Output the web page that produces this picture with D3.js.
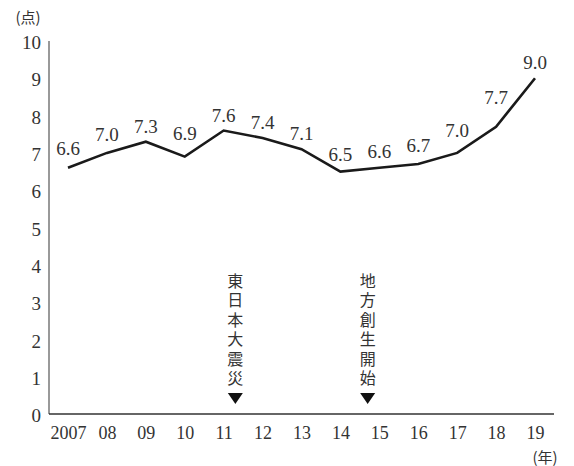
<!DOCTYPE html>
<html>
<head>
<meta charset="utf-8">
<script src="https://cdn.jsdelivr.net/npm/d3@7"></script>
<style>
  body { margin: 0; background: #fff; }
  svg text { fill: #333; }
  .serif { font-family: "Liberation Serif", "Times New Roman", Times, "DejaVu Serif", serif; }
  .jp { font-family: "Noto Sans CJK JP", "Noto Sans CJK SC", sans-serif; }
  .vert { writing-mode: vertical-rl; text-orientation: upright; }
</style>
</head>
<body>
<svg class="chart" width="574" height="466"></svg>
<script>
const years = [2007, 2008, 2009, 2010, 2011, 2012, 2013, 2014, 2015, 2016, 2017, 2018, 2019];
const yearLabels = ["2007", "08", "09", "10", "11", "12", "13", "14", "15", "16", "17", "18", "19"];
const scores = [6.6, 7.0, 7.3, 6.9, 7.6, 7.4, 7.1, 6.5, 6.6, 6.7, 7.0, 7.7, 9.0];
const yTicks = [0, 1, 2, 3, 4, 5, 6, 7, 8, 9, 10];
const events = ["東日本大震災", "地方創生開始"];
const eventYears = [2011.3, 2014.7];

(function lineIIFE() {
    const svg = d3.select("svg.chart");
    const left = 49, right = 554, top = 41, bottom = 414;

    const x = d3.scaleLinear().domain([2007, 2019]).range([68, 535]);
    const y = d3.scaleLinear().domain([0, 10]).range([bottom, top]);

    // y axis
    const yAxis = svg.append("g")
        .attr("transform", "translate(" + left + ",0)")
        .call(d3.axisLeft(y).tickValues(yTicks).tickSize(0).tickPadding(8).tickFormat(d3.format("d")));
    yAxis.attr("font-family", null).attr("font-size", null);
    yAxis.select(".domain").remove();
    yAxis.selectAll("text").attr("class", "serif").style("font-size", "19px").attr("dy", "0.4em");
    svg.append("line")
        .attr("x1", left).attr("x2", left)
        .attr("y1", top).attr("y2", bottom)
        .attr("stroke", "#777").attr("stroke-width", 1.5);

    // x axis
    const xAxis = svg.append("g")
        .attr("transform", "translate(0," + bottom + ")")
        .call(d3.axisBottom(x).tickValues(years).tickSize(0).tickPadding(12)
            .tickFormat(function(d, i) { return yearLabels[i]; }));
    xAxis.attr("font-family", null).attr("font-size", null);
    xAxis.select(".domain").remove();
    xAxis.selectAll("text").attr("class", "serif").style("font-size", "18px");
    svg.append("line")
        .attr("x1", left).attr("x2", right)
        .attr("y1", bottom).attr("y2", bottom)
        .attr("stroke", "#333").attr("stroke-width", 1.6);

    // unit labels
    svg.append("text").attr("class", "jp").attr("x", 28).attr("y", 23)
        .attr("text-anchor", "middle").style("font-size", "15px").text("(点)");
    svg.append("text").attr("class", "jp").attr("x", 545).attr("y", 463)
        .attr("text-anchor", "middle").style("font-size", "15px").text("(年)");

    // line
    const data = years.map(function(d, i) { return {year: d, value: scores[i]}; });
    svg.append("path")
        .datum(data)
        .attr("fill", "none")
        .attr("stroke", "#1a1a1a")
        .attr("stroke-width", 2.6)
        .attr("d", d3.line().x(function(d) { return x(d.year); }).y(function(d) { return y(d.value); }));

    // value labels, lifted a bit where the line climbs to the right
    svg.selectAll(".val")
        .data(data)
        .enter()
        .append("text")
        .attr("class", "val serif")
        .attr("text-anchor", "middle")
        .style("font-size", "19px")
        .attr("x", function(d) { return x(d.year); })
        .attr("y", function(d, i) {
            let lift = 0;
            if (i < data.length - 1) {
                const rise = y(d.value) - y(data[i + 1].value);
                lift = Math.max(0, rise) * 11 / (x(data[i + 1].year) - x(d.year));
            }
            return y(d.value) - 9 - lift;
        })
        .text(function(d) { return d3.format(".1f")(d.value); });

    // event annotations (vertical text + triangle)
    const ev = svg.selectAll(".event")
        .data(events)
        .enter()
        .append("g")
        .attr("class", "event")
        .attr("transform", function(d, i) { return "translate(" + x(eventYears[i]) + ",0)"; });

    ev.append("text")
        .attr("class", "jp vert")
        .style("font-size", "16px")
        .style("letter-spacing", "3.4px")
        .attr("x", 0)
        .attr("y", 273)
        .text(function(d) { return d; });

    ev.append("path")
        .attr("d", "M-7.5,393 L7.5,393 L0,404 Z")
        .attr("fill", "#111");
})();
</script>
</body>
</html>
